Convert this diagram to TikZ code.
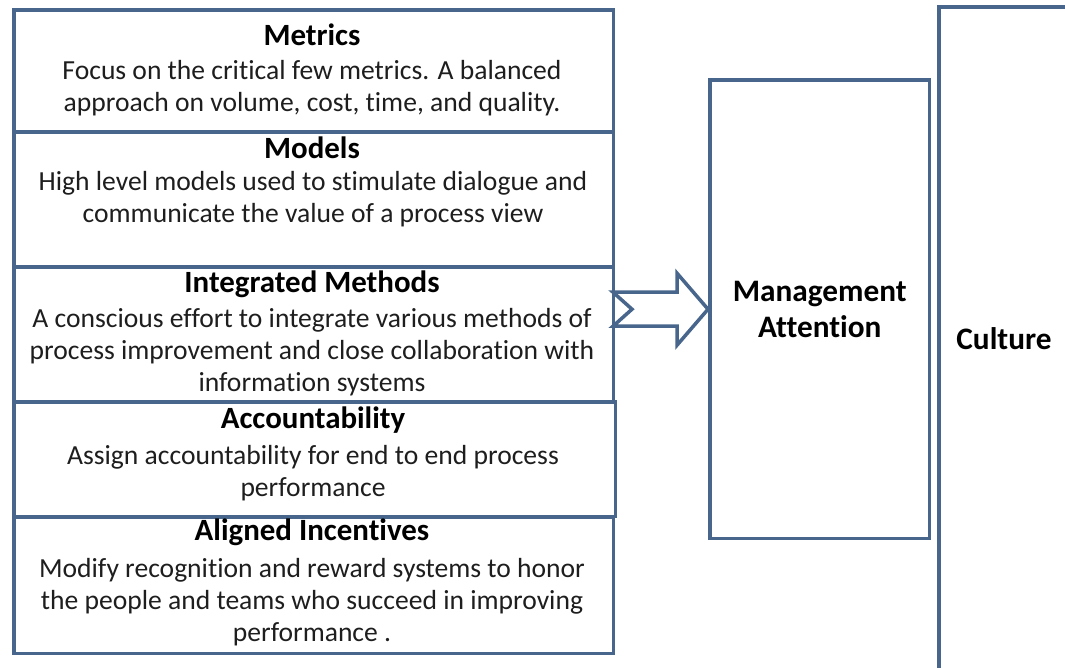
\documentclass[tikz,border=0pt]{standalone}
\usepackage{fontspec}
\setmainfont[Ligatures=NoCommon]{Carlito}
\usetikzlibrary{positioning}

\definecolor{frame}{RGB}{72,102,140}
\definecolor{ink}{RGB}{30,30,30}

\tikzstyle{panel} = [rectangle, draw=frame, line width=2pt, fill=white, inner sep=0pt, anchor=north west]
\tikzstyle{title} = [font=\fontsize{17.6}{20}\selectfont\bfseries, inner sep=0pt]
\tikzstyle{body} = [font=\fontsize{15.7}{18.2}\selectfont, text=ink, align=center, inner sep=0pt]
\tikzstyle{big} = [font=\fontsize{17.8}{20.5}\selectfont\bfseries, align=center, inner sep=0pt]
\tikzstyle{blockarrow} = [draw=frame, line width=2pt, fill=white, line join=miter]

\begin{document}
\begin{tikzpicture}[x=0.02cm, y=-0.02cm]
    \useasboundingbox (0,0) rectangle (1065,668);
    \clip (0,0) rectangle (1065,668);

    % left column
    \node (metrics)[panel, minimum width=12cm, minimum height=2.44cm] at (12,8) {};
    \node (models)[panel, minimum width=12cm, minimum height=2.7cm] at (12,130) {};
    \node (methods)[panel, minimum width=12cm, minimum height=2.7cm] at (12,265) {};
    \node (account)[panel, minimum width=12.04cm, minimum height=2.3cm] at (12,400) {};
    \node (incent)[panel, minimum width=12cm, minimum height=2.74cm] at (12,515) {};

    \node (metricsT)[title] at (312,35) {Metrics};
    \node (metricsB)[body] at (312,88) {Focus on the critical few metrics. A balanced\\approach on volume, cost, time, and quality.};
    \node (modelsT)[title] at (312,148) {Models};
    \node (modelsB)[body] at (313,199) {High level models used to stimulate dialogue and\\communicate the value of a process view};
    \node (methodsT)[title] at (312,284) {Integrated Methods};
    \node (methodsB)[body] at (312,352) {A conscious effort to integrate various methods of\\process improvement and close collaboration with\\information systems};
    \node (accountT)[title] at (313,420) {Accountability};
    \node (accountB)[body] at (313,473) {Assign accountability for end to end process\\performance};
    \node (incentT)[title] at (312,532) {Aligned Incentives};
    \node (incentB)[body] at (312,602) {Modify recognition and reward systems to honor\\the people and teams who succeed in improving\\performance .};

    % right column
    \node (mgmt)[panel, minimum width=4.4cm, minimum height=9.18cm] at (708,78) {};
    \node (mgmtT)[big] at (mgmt.center) {Management\\Attention};
    \node (culture)[panel, minimum width=4cm, minimum height=14cm] at (937,5) {};
    \node (cultureT)[big] at (1004,339) {Culture};

    % notched arrow into the attention box
    \draw [blockarrow] (mgmt.west) -- ++(-31,36) -- ++(0,-19) -- ++(-64,0) -- ++(19,-17)
        -- ++(-19,-17) -- ++(64,0) -- ++(0,-19) -- cycle;

\end{tikzpicture}
\end{document}
